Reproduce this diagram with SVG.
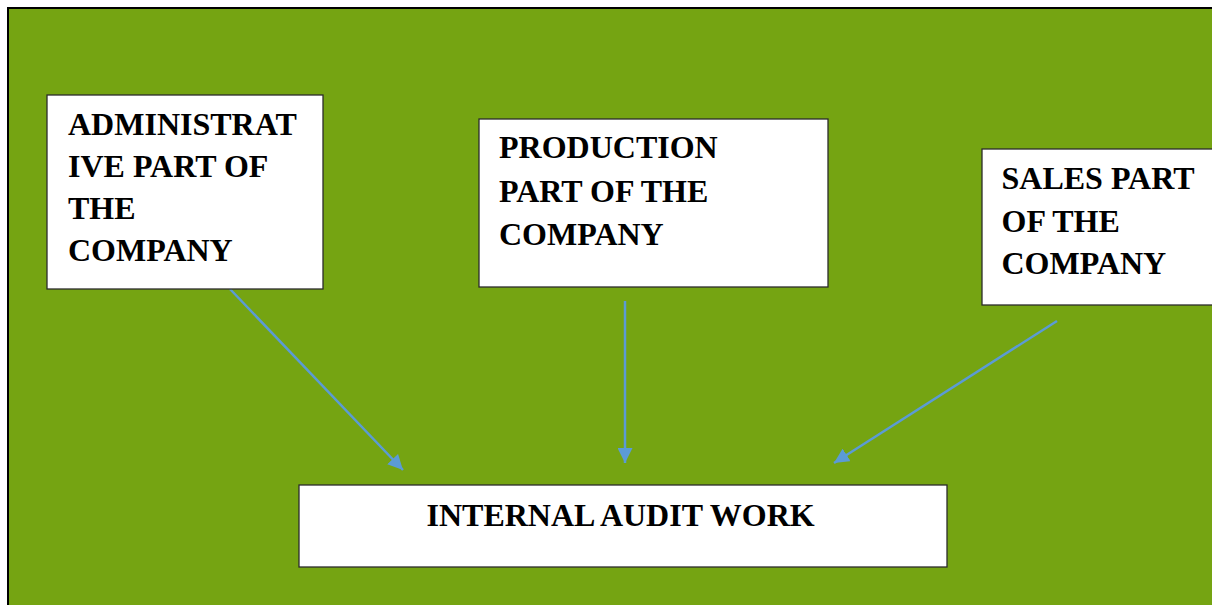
<svg xmlns="http://www.w3.org/2000/svg" width="1212" height="605" viewBox="0 0 1212 605">
<style>
.box{fill:#ffffff;stroke:#2b2b2b;stroke-width:1.3}
.t{font-family:"Liberation Serif","Times New Roman",serif;font-weight:bold;font-size:32px;fill:#000}
.c{stroke:#5B9BD5;stroke-width:2.5;fill:none}
</style>
<defs>
<marker id="ah" viewBox="0 0 10 10" refX="10" refY="5" markerWidth="6" markerHeight="6" markerUnits="strokeWidth" orient="auto">
<path d="M0,0 L10,5 L0,10 z" fill="#5B9BD5"/>
</marker>
</defs>
<rect x="0" y="0" width="1212" height="605" fill="#ffffff"/>
<rect x="8" y="8" width="1210" height="610" fill="#75A412" stroke="#000" stroke-width="2"/>
<g id="connectors">
<line class="c" x1="230" y1="289" x2="403" y2="470" marker-end="url(#ah)"/>
<line class="c" x1="625" y1="301" x2="625" y2="463" marker-end="url(#ah)"/>
<line class="c" x1="1057" y1="321" x2="834" y2="463" marker-end="url(#ah)"/>
</g>
<g id="admin">
<rect class="box" x="47" y="95" width="276" height="194"/>
<text class="t"><tspan x="68" y="135">ADMINISTRAT</tspan><tspan x="68" y="177">IVE PART OF</tspan><tspan x="68" y="219">THE</tspan><tspan x="68" y="261">COMPANY</tspan></text>
</g>
<g id="production">
<rect class="box" x="479" y="119" width="349" height="168"/>
<text class="t"><tspan x="499" y="158">PRODUCTION</tspan><tspan x="499" y="201.5">PART OF THE</tspan><tspan x="499" y="245">COMPANY</tspan></text>
</g>
<g id="sales">
<rect class="box" x="982" y="149" width="240" height="156"/>
<text class="t"><tspan x="1001.5" y="189">SALES PART</tspan><tspan x="1001.5" y="231.5">OF THE</tspan><tspan x="1001.5" y="274">COMPANY</tspan></text>
</g>
<g id="internal">
<rect class="box" x="299" y="485" width="648" height="82"/>
<text class="t" x="426.5" y="525.5">INTERNAL AUDIT WORK</text>
</g>
</svg>
